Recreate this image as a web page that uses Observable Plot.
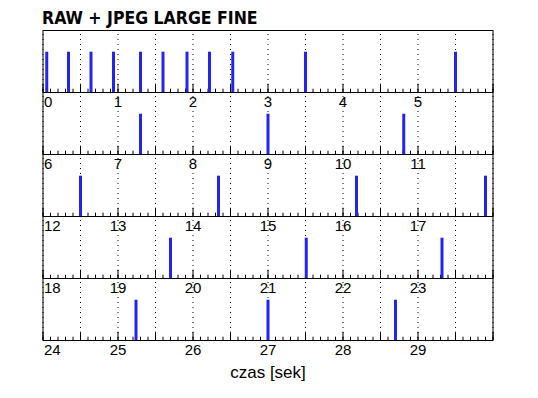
<!DOCTYPE html>
<html>
<head>
<meta charset="utf-8">
<script src="https://cdn.jsdelivr.net/npm/d3@7"></script>
<script src="https://cdn.jsdelivr.net/npm/@observablehq/plot@0.6"></script>
<style>
  html, body { margin: 0; padding: 0; background: #fff; }
  #wrap { position: relative; width: 538px; height: 398px; overflow: hidden; }
  #title { position: absolute; left: 42px; top: 10px; font-family: "DejaVu Sans Condensed", "DejaVu Sans", sans-serif; font-weight: bold; font-size: 17.5px; line-height: 1; color: #000; white-space: nowrap; z-index: 2; }
  #chart { position: absolute; left: 0; top: 0; }
</style>
</head>
<body>
<div id="wrap">
  <div id="title">RAW + JPEG LARGE FINE</div>
  <div id="chart"></div>
</div>
<script>
// event times (seconds)
const eventTimes = [0.05, 0.34, 0.64, 0.94, 1.30, 1.60, 1.92, 2.22, 2.53, 3.50, 5.50,
                    7.30, 9.00, 10.81,
                    12.50, 14.34, 16.18, 17.90,
                    19.70, 21.51, 23.32,
                    25.24, 27.00, 28.70];
// marker level (fraction of row height)
const eventLevel = 0.65;
// seconds shown per row
const rowSpan = 6;
const rows = [0, 1, 2, 3, 4];
// tick labels per row
const tickLabels = ["0","1","2","3","4","5","6","7","8","9","10","11","12","13","14","15","16","17",
                    "18","19","20","21","22","23","24","25","26","27","28","29"];
const xLabel = "czas [sek]";

const W = 538, H = 398;
const mTop = 28.5, mBottom = 56, mLeft = 42.5, mRight = 45.5;
const rowH = (H - mTop - mBottom) / rows.length;

const bars = eventTimes.map(t => {
  const row = Math.floor(t / rowSpan);
  return {row, x: t - row * rowSpan, h: eventLevel};
});
const minorTicks = d3.range(0, rowSpan * 10 + 1).map(i => i / 10);
const halfTicks = d3.range(0, rowSpan * 2 + 1).map(i => i / 2);
const labels = tickLabels.map((text, i) => ({row: Math.floor(i / rowSpan), x: i % rowSpan, text}));

const numFont = "'Liberation Sans Narrow', 'Liberation Sans', Arial, sans-serif";

const chart = Plot.plot({
  width: W,
  height: H,
  marginTop: mTop,
  marginBottom: mBottom,
  marginLeft: mLeft,
  marginRight: mRight,
  style: {fontFamily: numFont, background: "white", color: "black"},
  x: {domain: [0, rowSpan], axis: null},
  y: {domain: [0, 1], axis: null},
  fy: {domain: rows, axis: null, padding: 0},
  marks: [
    Plot.ruleX(halfTicks, {x: d => d, stroke: "black", strokeDasharray: "1,4", insetTop: 4}),
    Plot.ruleX(minorTicks, {x: d => d, stroke: "black", insetTop: rowH - 4}),
    Plot.ruleX(halfTicks, {x: d => d, stroke: "black", insetTop: rowH - 9}),
    Plot.ruleX(bars, {x: "x", y1: 0, y2: "h", fy: "row", stroke: "#2424f0", strokeWidth: 3}),
    Plot.frame({stroke: "black"}),
    Plot.text(labels.filter(d => d.x > 0), {x: "x", fy: "row", text: "text", frameAnchor: "bottom",
      lineAnchor: "top", dy: 4, fontSize: 15, textAnchor: "middle", fill: "black"}),
    Plot.text(labels.filter(d => d.x === 0), {x: "x", fy: "row", text: "text", frameAnchor: "bottom",
      lineAnchor: "top", dy: 4, dx: 1, fontSize: 15, textAnchor: "start", fill: "black"}),
    Plot.text([{row: rows[rows.length - 1]}], {fy: "row", frameAnchor: "bottom", text: () => xLabel,
      lineAnchor: "top", dy: 25, fontSize: 17, textAnchor: "middle", fill: "black"})
  ]
});
document.getElementById("chart").appendChild(chart);
</script>
</body>
</html>
